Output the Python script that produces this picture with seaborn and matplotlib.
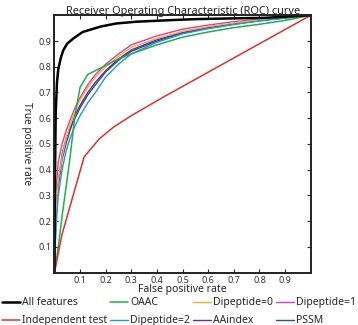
import matplotlib
matplotlib.use("Agg")
import matplotlib.pyplot as plt
import seaborn as sns
import pandas as pd

# ROC data
fpr_all = [0, 0.002, 0.005, 0.01, 0.015, 0.025, 0.035, 0.05, 0.074, 0.11, 0.18, 0.24, 0.32, 0.45, 0.55, 0.7, 0.82, 1.0]
tpr_all = [0, 0.35, 0.62, 0.74, 0.79, 0.835, 0.865, 0.89, 0.91, 0.935, 0.956, 0.968, 0.975, 0.981, 0.985, 0.988, 0.99, 1.0]

fpr_indep = [0, 0.03, 0.116, 0.175, 0.23, 0.30, 0.43, 1.0]
tpr_indep = [0, 0.15, 0.45, 0.52, 0.565, 0.61, 0.685, 1.0]

fpr_grid = [0, 0.005, 0.015, 0.03, 0.045, 0.06, 0.08, 0.1, 0.13, 0.16, 0.2, 0.25, 0.3, 0.4, 0.5, 0.6, 0.7, 0.8, 0.9, 1.0]
tpr_oaac = [0, 0.03, 0.10, 0.22, 0.33, 0.44, 0.61, 0.72, 0.77, 0.785, 0.805, 0.83, 0.85, 0.885, 0.915, 0.935, 0.952, 0.965, 0.98, 1.0]
tpr_dip0 = [0, 0.22, 0.36, 0.45, 0.52, 0.57, 0.63, 0.67, 0.72, 0.76, 0.80, 0.84, 0.875, 0.91, 0.938, 0.956, 0.97, 0.982, 0.991, 1.0]
tpr_dip1 = [0, 0.30, 0.43, 0.50, 0.55, 0.59, 0.64, 0.68, 0.73, 0.77, 0.81, 0.85, 0.885, 0.92, 0.946, 0.962, 0.975, 0.985, 0.993, 1.0]
tpr_dip2 = [0, 0.15, 0.30, 0.40, 0.47, 0.52, 0.57, 0.61, 0.66, 0.70, 0.76, 0.81, 0.85, 0.895, 0.928, 0.948, 0.964, 0.978, 0.989, 1.0]
tpr_aaindex = [0, 0.20, 0.34, 0.44, 0.50, 0.55, 0.61, 0.65, 0.70, 0.74, 0.785, 0.83, 0.865, 0.905, 0.933, 0.952, 0.967, 0.98, 0.99, 1.0]
tpr_pssm = [0, 0.18, 0.35, 0.46, 0.52, 0.56, 0.60, 0.64, 0.69, 0.73, 0.78, 0.825, 0.86, 0.90, 0.93, 0.95, 0.966, 0.979, 0.99, 1.0]

ticks = [0.1, 0.2, 0.3, 0.4, 0.5, 0.6, 0.7, 0.8, 0.9]

series = [
    ("All features", fpr_all, tpr_all, "#000000", 1.8),
    ("Independent test", fpr_indep, tpr_indep, "#e2302c", 1.1),
    ("OAAC", fpr_grid, tpr_oaac, "#1fb04a", 1.1),
    ("Dipeptide=2", fpr_grid, tpr_dip2, "#1b9ad6", 1.0),
    ("Dipeptide=0", fpr_grid, tpr_dip0, "#f2b134", 1.0),
    ("AAindex", fpr_grid, tpr_aaindex, "#6a2c91", 1.0),
    ("Dipeptide=1", fpr_grid, tpr_dip1, "#e23c9c", 1.0),
    ("PSSM", fpr_grid, tpr_pssm, "#2e4a9c", 1.0),
]

sns.set_style("white")
plt.rcParams['font.family'] = ['Noto Sans', 'DejaVu Sans']

fig = plt.figure(figsize=(3.58, 3.25), dpi=100)
ax = fig.add_axes([0.152, 0.161, 0.716, 0.792])

# draw back to front so black stays on top
for name, x, y, color, lw in series[::-1]:
    df = pd.DataFrame({"fpr": x, "tpr": y})
    sns.lineplot(data=df, x="fpr", y="tpr", ax=ax, color=color, linewidth=lw,
                 sort=False, label=name, estimator=None)

ax.set_xlim(0, 1)
ax.set_ylim(0, 1)
ax.set_xticks(ticks)
ax.set_yticks(ticks)
ax.set_xticklabels([str(t) for t in ticks], fontsize=6.5, color="#333333")
ax.set_yticklabels([str(t) for t in ticks], fontsize=6.5, color="#333333")
ax.tick_params(direction="in", length=3, width=0.8, top=True, right=True,
               bottom=True, left=True, pad=2.5)
for s in ax.spines.values():
    s.set_color("#222222")
    s.set_linewidth(1.4)

ax.set_title("Receiver Operating Characteristic (ROC) curve", fontsize=7.9, pad=1)
ax.set_xlabel("False positive rate", fontsize=7.5, labelpad=-1)
ax.set_ylabel("True positive rate", fontsize=7.3, rotation=-90, labelpad=12)

handles, labels = ax.get_legend_handles_labels()
order = [s[0] for s in series]
hl = dict(zip(labels, handles))
ax.get_legend().remove()
fig.legend([hl[n] for n in order], order, ncol=4, loc="lower center",
           bbox_to_anchor=(0.5, -0.01), frameon=False, fontsize=7.5,
           handlelength=1.7, handletextpad=0.2, columnspacing=0.3,
           labelspacing=0.65, borderaxespad=0.0, borderpad=0.2)

fig.savefig("out.png", dpi=100)
